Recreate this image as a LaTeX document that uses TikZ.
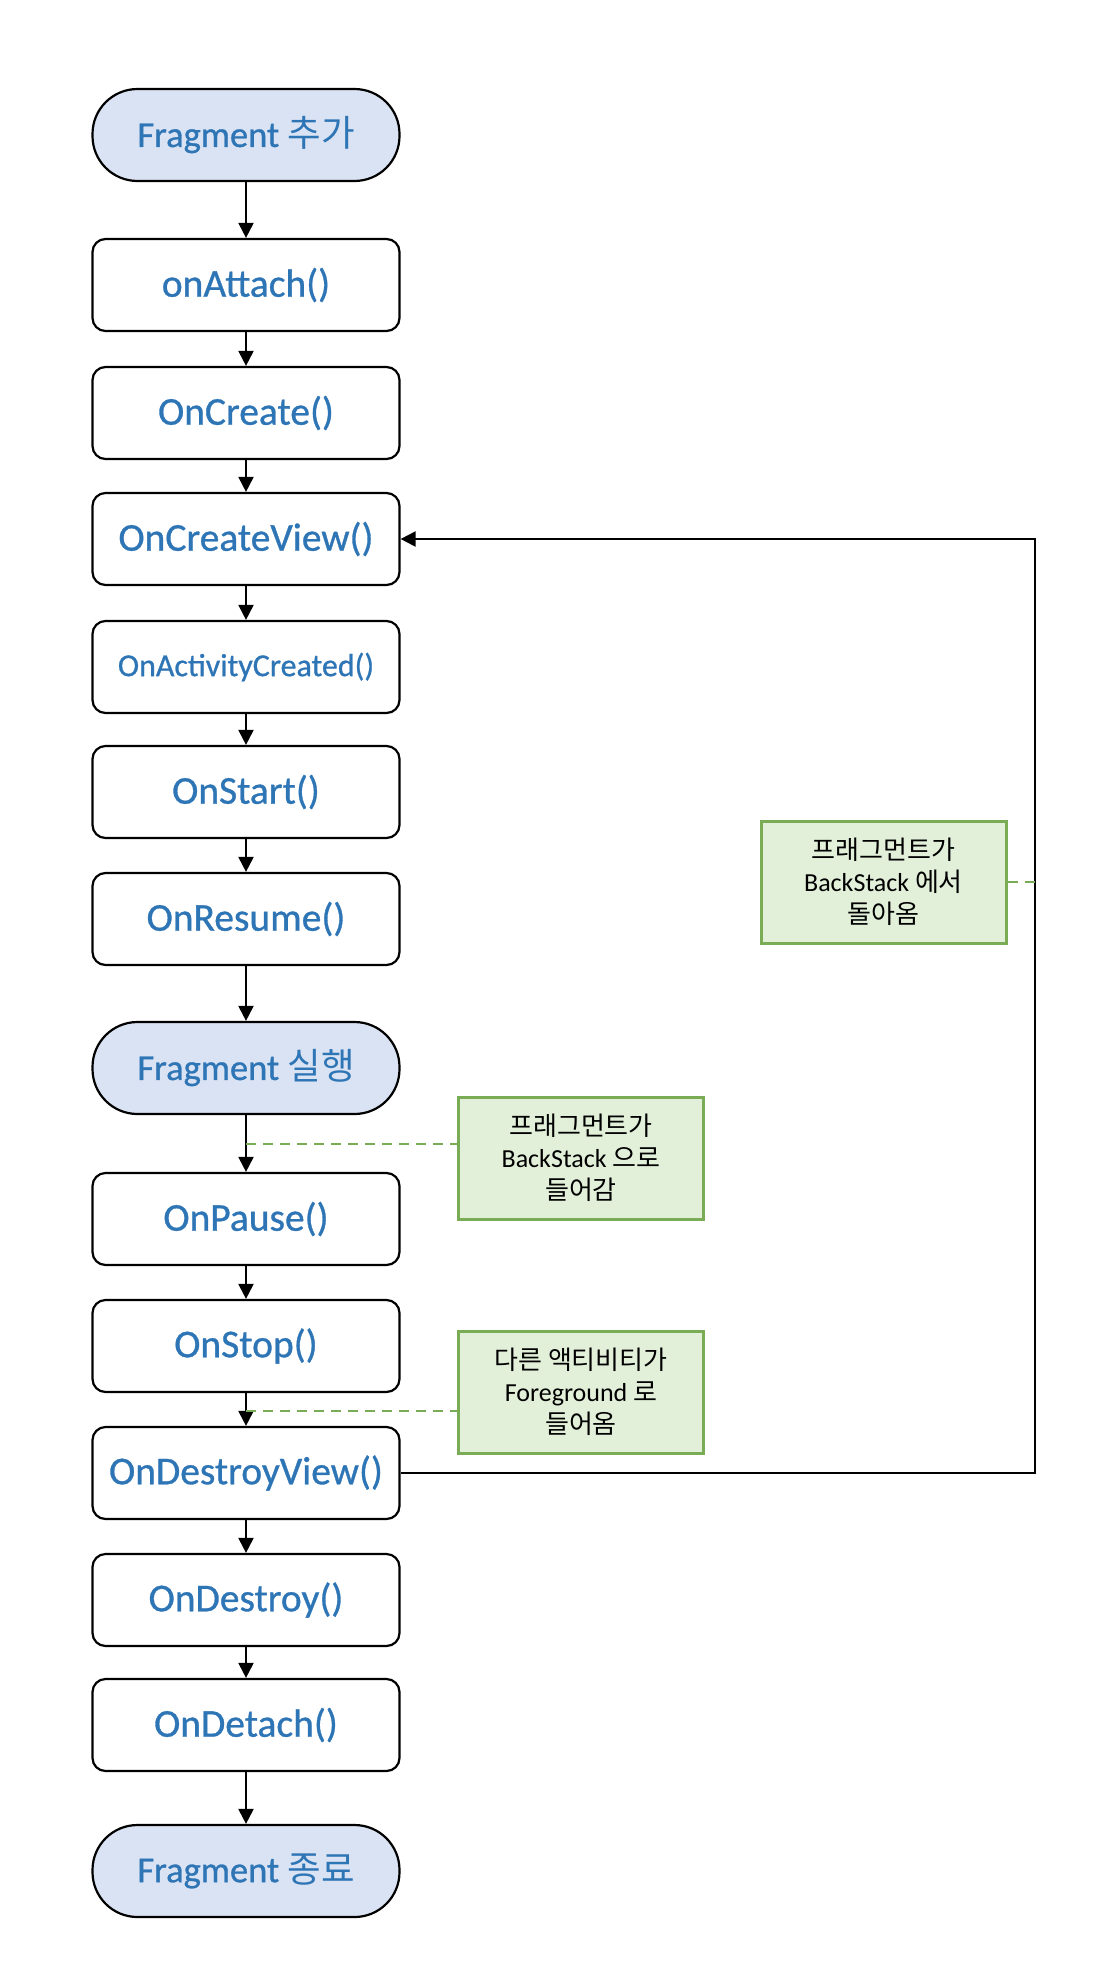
\documentclass[tikz,border=0pt]{standalone}
\usepackage{fontspec}
\setmainfont{Carlito}[FakeBold=0.8]
\newfontfamily\plain{Carlito}
\newfontfamily\kr{Noto Sans CJK KR}
\usepackage{tikz}
\usetikzlibrary{arrows.meta}
\definecolor{txtblue}{HTML}{2E75B6}
\definecolor{termfill}{HTML}{DAE3F3}
\definecolor{notefill}{HTML}{E2F0D9}
\definecolor{notedraw}{HTML}{7AAB55}

\begin{document}
\begin{tikzpicture}[x=1pt,y=-1pt]
  %% CYCLE DE VIE
  \tikzstyle{every edge}=[draw,line width=2pt,-{Triangle[length=15pt,width=15pt]}]
  \tikzstyle{call}=[draw,line width=2.2pt,rounded corners=13pt,minimum width=307pt,minimum height=92pt,inner sep=0pt,text=txtblue,font=\fontsize{39.5}{47}\selectfont]
  \tikzstyle{terminal}=[call,fill=termfill,rounded corners=45pt,font=\fontsize{36.5}{44}\selectfont]
  \tikzstyle{note}=[draw=notedraw,line width=3pt,fill=notefill,minimum width=245pt,minimum height=122pt,inner sep=0pt,align=center,font=\plain\fontsize{26}{32}\selectfont]
  \tikzstyle{hint}=[draw=notedraw,line width=2pt,dash pattern=on 10pt off 7pt]

  \useasboundingbox (0,0) rectangle (1108,1970);

  % etats
  \node[terminal] (add) at (246,135) {Fragment {\kr 추가}};
  \node[terminal] (run) at (246,1068) {Fragment {\kr 실행}};
  \node[terminal] (end) at (246,1871) {Fragment {\kr 종료}};

  % appels
  \foreach \y/\name/\text in {285/attach/onAttach(), 413/create/OnCreate(),
    539/createview/OnCreateView(), 792/start/OnStart(), 919/resume/OnResume(),
    1219/pause/OnPause(), 1346/stop/OnStop(), 1473/destroyview/OnDestroyView(),
    1600/destroy/OnDestroy(), 1725/detach/OnDetach()} {
    \node[call] (\name) at (246,\y) {\text};
  }
  \node[call,font=\fontsize{32}{38}\selectfont] (activity) at (246,667) {OnActivityCreated()};

  \foreach \from/\to in {add/attach,attach/create,create/createview,createview/activity,
    activity/start,start/resume,resume/run,run/pause,pause/stop,stop/destroyview,
    destroyview/destroy,destroy/detach,detach/end}{
    \path (\from) edge (\to);
  }

  % retour
  \coordinate (loop) at (1035,882);
  \draw[line width=2pt,-{Triangle[length=15pt,width=15pt]}]
    (destroyview.east) -| (loop) |- (createview.east);

  % notes
  \node[note] (fromstack) at (883.5,882) {{\kr 프래그먼트가}\\BackStack {\kr 에서}\\{\kr 돌아옴}};
  \node[note] (tostack) at (581,1158) {{\kr 프래그먼트가}\\BackStack {\kr 으로}\\{\kr 들어감}};
  \node[note] (foreground) at (581,1392) {{\kr 다른 액티비티가}\\Foreground {\kr 로}\\{\kr 들어옴}};

  \coordinate (p2) at (246,1144);
  \coordinate (p3) at (246,1411);
  \draw[hint] (fromstack.east) -- (loop);
  \draw[hint] (p2) -- (p2 -| tostack.west);
  \draw[hint] (p3) -- (p3 -| foreground.west);
\end{tikzpicture}
\end{document}
